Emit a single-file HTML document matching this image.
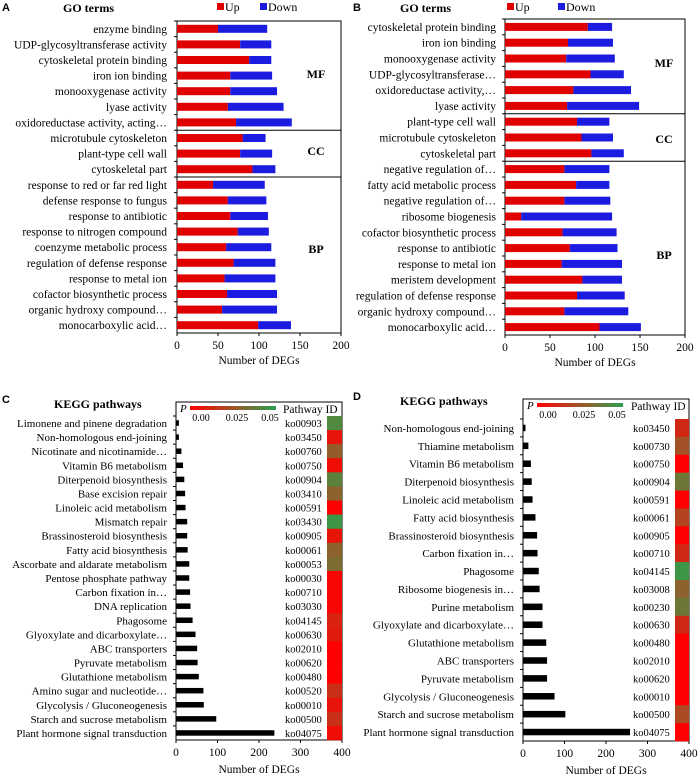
<!DOCTYPE html>
<html><head><meta charset="utf-8"><style>
body{margin:0;background:#fff;}
svg{display:block;font-family:"Liberation Serif",serif;}
</style></head><body>
<svg id="fig" width="700" height="778" viewBox="0 0 700 778"></svg>
<script>
const goA_terms=["enzyme binding","UDP-glycosyltransferase activity","cytoskeletal protein binding","iron ion binding","monooxygenase activity","lyase activity","oxidoreductase activity, acting…","microtubule cytoskeleton","plant-type cell wall","cytoskeletal part","response to red or far red light","defense response to fungus","response to antibiotic","response to nitrogen compound","coenzyme metabolic process","regulation of defense response","response to metal ion","cofactor biosynthetic process","organic hydroxy compound…","monocarboxylic acid…"];
const goA_up=[50,77,88,65,65,62,72,80,77,92,44,62,65,74,60,69,58,61,55,99];
const goA_total=[110,115,115,116,122,130,140,108,116,120,107,109,111,112,115,120,120,122,122,139];
const goB_terms=["cytoskeletal protein binding","iron ion binding","monooxygenase activity","UDP-glycosyltransferase…","oxidoreductase activity,…","lyase activity","plant-type cell wall","microtubule cytoskeleton","cytoskeletal part","negative regulation of…","fatty acid metabolic process","negative regulation of…","ribosome biogenesis","cofactor biosynthetic process","response to antibiotic","response to metal ion","meristem development","regulation of defense response","organic hydroxy compound…","monocarboxylic acid…"];
const goB_up=[92,70,68,95,76,69,80,85,96,66,79,66,18,64,72,63,86,80,66,105];
const goB_total=[119,120,122,132,140,149,116,120,132,116,116,117,119,124,125,130,130,133,137,151];
const goTicks=[0,50,100,150,200];
const keggC_names=["Limonene and pinene degradation","Non-homologous end-joining","Nicotinate and nicotinamide…","Vitamin B6 metabolism","Diterpenoid biosynthesis","Base excision repair","Linoleic acid metabolism","Mismatch repair","Brassinosteroid biosynthesis","Fatty acid biosynthesis","Ascorbate and aldarate metabolism","Pentose phosphate pathway","Carbon fixation in…","DNA replication","Phagosome","Glyoxylate and dicarboxylate…","ABC transporters","Pyruvate metabolism","Glutathione metabolism","Amino sugar and nucleotide…","Glycolysis / Gluconeogenesis","Starch and sucrose metabolism","Plant hormone signal transduction"];
const keggC_ids=["ko00903","ko03450","ko00760","ko00750","ko00904","ko03410","ko00591","ko03430","ko00905","ko00061","ko00053","ko00030","ko00710","ko03030","ko04145","ko00630","ko02010","ko00620","ko00480","ko00520","ko00010","ko00500","ko04075"];
const keggC_counts=[7,7,13,17,20,22,23,27,27,28,32,32,34,35,40,47,51,52,55,66,67,97,237];
const keggC_p=[0.045,0.006,0.028,0.004,0.042,0.03,0.0,0.05,0.006,0.03,0.034,0.002,0.002,0.002,0.01,0.008,0.0,0.0,0.0,0.014,0.006,0.014,0.004];
const keggD_names=["Non-homologous end-joining","Thiamine metabolism","Vitamin B6 metabolism","Diterpenoid biosynthesis","Linoleic acid metabolism","Fatty acid biosynthesis","Brassinosteroid biosynthesis","Carbon fixation in…","Phagosome","Ribosome biogenesis in…","Purine metabolism","Glyoxylate and dicarboxylate…","Glutathione metabolism","ABC transporters","Pyruvate metabolism","Glycolysis / Gluconeogenesis","Starch and sucrose metabolism","Plant hormone signal transduction"];
const keggD_ids=["ko03450","ko00730","ko00750","ko00904","ko00591","ko00061","ko00905","ko00710","ko04145","ko03008","ko00230","ko00630","ko00480","ko02010","ko00620","ko00010","ko00500","ko04075"];
const keggD_counts=[6,13,19,21,23,30,34,35,38,40,47,47,56,58,58,76,102,258];
const keggD_p=[0.012,0.024,0.0,0.038,0.0,0.02,0.0,0.012,0.05,0.03,0.038,0.012,0.0,0.0,0.0,0.0,0.022,0.0];
const keggTicks=[0,100,200,300,400];

const NS="http://www.w3.org/2000/svg";
const svg=document.getElementById('fig');
function mk(tag,attrs,parent){const e=document.createElementNS(NS,tag);for(const k in attrs)e.setAttribute(k,attrs[k]);(parent||svg).appendChild(e);return e;}
function txt(s,x,y,size,anchor,parent,extra){const t=mk('text',Object.assign({x:x,y:y,'font-size':size,'text-anchor':anchor||'start',fill:'#000'},extra||{}),parent);t.textContent=s;return t;}
function pColor(p){const f=Math.min(1,p/0.05);let r,g,b;if(f<0.5){const k=f/0.5;r=255+(160-255)*k;g=0+(85-0)*k;b=0+(40)*k;}else{const k=(f-0.5)/0.5;r=160+(60-160)*k;g=85+(150-85)*k;b=40+(70-40)*k;}return `rgb(${r|0},${g|0},${b|0})`;}

function goPanel(cfg,terms,up,total){
  const g=mk('g',{});
  
  
  const n=terms.length,step=(cfg.bottom-cfg.top)/n;
  const xs=v=>cfg.x0+(v/200)*(cfg.x1-cfg.x0);
  const box=mk('rect',{x:cfg.x0,y:cfg.top,width:cfg.x1-cfg.x0,height:cfg.bottom-cfg.top,fill:'none',stroke:'#000','stroke-width':1},g);
  
  cfg.dividers.forEach(d=>{const l=mk('line',{x1:cfg.x0,x2:cfg.x1,y1:cfg.top+d*step,y2:cfg.top+d*step,stroke:'#000'},g);});
  for(let i=0;i<n;i++){
    const cy=cfg.top+(i+0.5)*step;
    const bu=mk('rect',{x:xs(0),y:cy-4,width:xs(up[i])-xs(0),height:8,fill:'#e00000'},g);
    
    const bd=mk('rect',{x:xs(up[i]),y:cy-4,width:xs(total[i])-xs(up[i]),height:8,fill:'#1c1ce0'},g);
    
    const t=txt(terms[i],cfg.lx,cy+4,11.5,'end',g);
    
    mk('line',{x1:cfg.x0-3,x2:cfg.x0,y1:cfg.top+i*step,y2:cfg.top+i*step,stroke:'#000'},g);
  }
  goTicks.forEach(v=>{mk('line',{x1:xs(v),x2:xs(v),y1:cfg.bottom,y2:cfg.bottom+3,stroke:'#000'},g);const t=txt(String(v),xs(v),cfg.bottom+16,11.5,'middle',g);});
  const xt=txt('Number of DEGs',(cfg.x0+cfg.x1)/2,cfg.bottom+31,11.5,'middle',g);
  cfg.groups.forEach(gr=>{const t=txt(gr[0],gr[1],gr[2],12,'middle',g,{'font-weight':'bold'});});
  const pl=txt(cfg.letter,cfg.letterX,11,11,'start',g,{'font-weight':'bold','font-family':'Liberation Sans, sans-serif'});
  const ti=txt('GO terms',cfg.titleX,12,12,'start',g,{'font-weight':'bold'});
  const lu=mk('rect',{x:cfg.legX,y:3,width:7,height:7,fill:'#e00000'},g);
  const lut=txt('Up',cfg.legX+8,11,12,'start',g);
  const ld=mk('rect',{x:cfg.legX+cfg.legGap,y:3,width:7,height:7,fill:'#1c1ce0'},g);
  const ldt=txt('Down',cfg.legX+cfg.legGap+8,11,12,'start',g);
}

function keggPanel(cfg,names,ids,counts,pv){
  const g=mk('g',{});
  
  
  const n=names.length,step=(cfg.bottom-cfg.top)/n;
  const xs=v=>cfg.x0+(v/400)*(cfg.x1-cfg.x0);
  const box=mk('rect',{x:cfg.x0,y:cfg.boxTop,width:cfg.x1-cfg.x0,height:cfg.bottom-cfg.boxTop,fill:'none',stroke:'#000'},g);
  
  for(let i=0;i<n;i++){
    const cy=cfg.top+(i+0.5)*step;
    const b=mk('rect',{x:xs(0),y:cy-cfg.bh/2,width:xs(counts[i])-xs(0),height:cfg.bh,fill:'#000'},g);
    
    const t=txt(names[i],cfg.lx,cy+4,11,'end',g);
    const id=txt(ids[i],cfg.idx,cy+4,10.5,'start',g);
    const c=mk('rect',{x:cfg.hx,y:cfg.top+i*step,width:cfg.x1-cfg.hx,height:step+0.3,fill:pColor(pv[i])},g);
    
    mk('line',{x1:cfg.x0-3,x2:cfg.x0,y1:cfg.top+i*step,y2:cfg.top+i*step,stroke:'#000'},g);
  }
  keggTicks.forEach(v=>{mk('line',{x1:xs(v),x2:xs(v),y1:cfg.bottom,y2:cfg.bottom+3,stroke:'#000'},g);const t=txt(String(v),xs(v),cfg.bottom+16,11.5,'middle',g);});
  const xt=txt('Number of DEGs',(cfg.x0+cfg.x1)/2,cfg.bottom+33,11.5,'middle',g);
  const pl=txt(cfg.letter,cfg.letterX,cfg.boxTop+1,11,'start',g,{'font-weight':'bold','font-family':'Liberation Sans, sans-serif'});
  const ti=txt('KEGG pathways',cfg.titleX,cfg.boxTop+6,12,'start',g,{'font-weight':'bold'});
  const gid=cfg.name+'-grad';
  const lg=mk('linearGradient',{id:gid},mk('defs',{},g));
  mk('stop',{offset:'0','stop-color':'#ff0000'},lg);mk('stop',{offset:'0.5','stop-color':'#a05528'},lg);mk('stop',{offset:'1','stop-color':'#2aa050'},lg);
  const cb=mk('rect',{x:cfg.x0+14,y:cfg.boxTop+4,width:86,height:4,fill:`url(#${gid})`},g);
  txt('P',cfg.x0+4,cfg.boxTop+10,11,'start',g,{'font-style':'italic'});
  [['0.00',cfg.x0+25],['0.025',cfg.x0+61],['0.05',cfg.x0+94]].forEach(a=>{const t=txt(a[0],a[1],cfg.boxTop+19,10,'middle',g);});
  const pid=txt('Pathway ID',cfg.idx-2,cfg.boxTop+11,11.5,'start',g);
}

goPanel({name:'panel-a',x0:177,x1:341,top:21,bottom:333,lx:167,dividers:[7,10],groups:[['MF',316,78],['CC',316,155],['BP',316,253]],letter:'A',letterX:2,titleX:63,legX:217,legGap:43},goA_terms,goA_up,goA_total);
goPanel({name:'panel-b',x0:505,x1:685,top:19,bottom:335,lx:496,dividers:[6,9],groups:[['MF',664,67],['CC',664,143],['BP',664,259]],letter:'B',letterX:353,titleX:400,legX:507,legGap:51},goB_terms,goB_up,goB_total);
keggPanel({name:'panel-c',x0:176,x1:342,boxTop:402,top:416,bottom:740,bh:5.5,lx:167,idx:285,hx:327,letter:'C',letterX:2,titleX:54},keggC_names,keggC_ids,keggC_counts,keggC_p);
keggPanel({name:'panel-d',x0:523,x1:689,boxTop:399,top:419,bottom:741,bh:6.5,lx:514,idx:633,hx:675,letter:'D',letterX:353,titleX:400},keggD_names,keggD_ids,keggD_counts,keggD_p);
</script>
</body></html>
